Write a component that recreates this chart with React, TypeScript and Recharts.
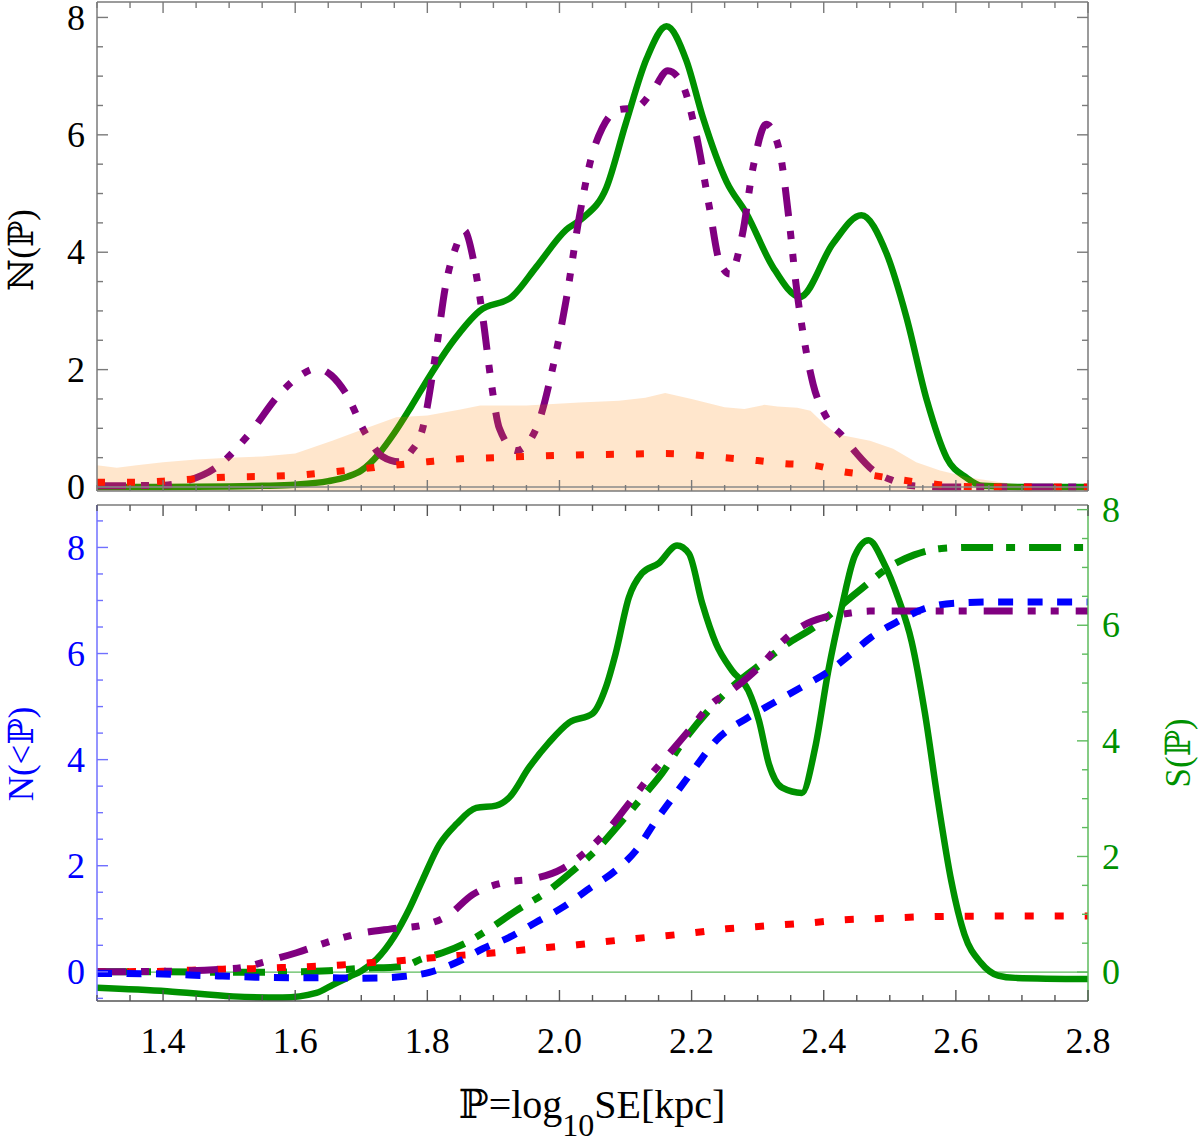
import React from 'react';
import { ComposedChart, Line, Area, XAxis, YAxis, ReferenceLine } from 'recharts';

// ---------- axis ticks ----------
const xTicks = [1.3, 1.35, 1.4, 1.45, 1.5, 1.55, 1.6, 1.65, 1.7, 1.75, 1.8, 1.85, 1.9, 1.95, 2.0, 2.05, 2.1, 2.15, 2.2, 2.25, 2.3, 2.35, 2.4, 2.45, 2.5, 2.55, 2.6, 2.65, 2.7, 2.75, 2.8];
const xMajor = [1.4, 1.6, 1.8, 2.0, 2.2, 2.4, 2.6, 2.8];
const topYTicks = [0, 0.5, 1, 1.5, 2, 2.5, 3, 3.5, 4, 4.5, 5, 5.5, 6, 6.5, 7, 7.5, 8];
const botLeftTicks = [-0.5, 0, 0.5, 1, 1.5, 2, 2.5, 3, 3.5, 4, 4.5, 5, 5.5, 6, 6.5, 7, 7.5, 8, 8.5];
const botRightTicks = [0, 0.5, 1, 1.5, 2, 2.5, 3, 3.5, 4, 4.5, 5, 5.5, 6, 6.5, 7, 7.5, 8];
const yMajor = [0, 2, 4, 6, 8];

const X_DOMAIN = [1.3, 2.8];
const TOP_DOMAIN = [-0.068, 8.263];
const BOT_LEFT_DOMAIN = [-0.55, 8.8];
const BOT_RIGHT_DOMAIN = [-0.5, 8.08];

// ---------- top panel: N(P) ----------
const topGreenX = [1.3, 1.4, 1.5, 1.55, 1.6, 1.65, 1.68, 1.7, 1.727, 1.75, 1.775, 1.803, 1.84, 1.879, 1.929, 1.965, 2.01, 2.035, 2.071, 2.1, 2.132, 2.162, 2.192, 2.217, 2.253, 2.283, 2.323, 2.364, 2.414, 2.457, 2.495, 2.525, 2.556, 2.586, 2.616, 2.64, 2.7, 2.8];
const topGreenY = [0, 0, 0.01, 0.02, 0.04, 0.1, 0.18, 0.28, 0.57, 0.92, 1.36, 1.88, 2.5, 3.0, 3.25, 3.75, 4.38, 4.58, 5.1, 6.18, 7.3, 7.85, 7.27, 6.3, 5.2, 4.66, 3.75, 3.24, 4.15, 4.63, 3.98, 2.9, 1.48, 0.5, 0.16, 0.02, 0, 0];

const topPurpleX = [1.3, 1.4, 1.435, 1.48, 1.53, 1.576, 1.605, 1.633, 1.655, 1.677, 1.707, 1.732, 1.757, 1.775, 1.793, 1.813, 1.828, 1.843, 1.856, 1.871, 1.884, 1.897, 1.909, 1.935, 1.965, 1.99, 2.01, 2.03, 2.048, 2.065, 2.09, 2.116, 2.141, 2.164, 2.186, 2.207, 2.227, 2.242, 2.258, 2.277, 2.293, 2.313, 2.333, 2.348, 2.358, 2.369, 2.384, 2.404, 2.43, 2.45, 2.475, 2.505, 2.535, 2.6, 2.8];
const topPurpleY = [0.02, 0.03, 0.1, 0.33, 0.9, 1.58, 1.88, 2.02, 1.9, 1.59, 0.9, 0.52, 0.43, 0.6, 1.0, 2.3, 3.45, 4.08, 4.37, 3.8, 2.89, 1.76, 1.0, 0.62, 1.0, 2.04, 3.18, 4.6, 5.6, 6.12, 6.43, 6.46, 6.75, 7.09, 6.86, 6.0, 4.76, 3.85, 3.63, 4.31, 5.44, 6.18, 5.73, 4.5, 3.46, 2.6, 1.75, 1.19, 0.85, 0.57, 0.28, 0.11, 0.02, 0, 0];

const topRedX = [1.3, 1.35, 1.4, 1.45, 1.5, 1.55, 1.6, 1.65, 1.7, 1.75, 1.8, 1.85, 1.9, 2.0, 2.1, 2.16, 2.25, 2.3, 2.34, 2.384, 2.43, 2.473, 2.518, 2.56, 2.606, 2.65, 2.8];
const topRedY = [0.08, 0.08, 0.1, 0.14, 0.17, 0.18, 0.2, 0.25, 0.31, 0.37, 0.43, 0.48, 0.5, 0.54, 0.56, 0.57, 0.5, 0.45, 0.4, 0.37, 0.26, 0.2, 0.12, 0.06, 0.01, 0, 0];

const topBandX = [1.3, 1.33, 1.36, 1.4, 1.45, 1.5, 1.55, 1.6, 1.656, 1.707, 1.753, 1.8, 1.85, 1.88, 1.95, 2.03, 2.09, 2.13, 2.16, 2.2, 2.25, 2.28, 2.31, 2.33, 2.36, 2.38, 2.4, 2.42, 2.47, 2.505, 2.54, 2.576, 2.62, 2.667, 2.71, 2.75, 2.8];
const topBandY = [0.37, 0.33, 0.37, 0.42, 0.47, 0.5, 0.52, 0.57, 0.79, 1.0, 1.19, 1.22, 1.32, 1.39, 1.39, 1.44, 1.47, 1.52, 1.6, 1.5, 1.36, 1.33, 1.4, 1.37, 1.35, 1.3, 1.08, 0.9, 0.79, 0.65, 0.42, 0.28, 0.16, 0.08, 0.02, 0, 0];

// ---------- bottom panel: N(<P) (left axis) ----------
const botBlueX = [1.3, 1.4, 1.44, 1.49, 1.54, 1.6, 1.64, 1.693, 1.74, 1.762, 1.803, 1.848, 1.883, 1.924, 1.964, 2.004, 2.045, 2.085, 2.116, 2.146, 2.176, 2.206, 2.237, 2.286, 2.327, 2.367, 2.407, 2.437, 2.472, 2.513, 2.553, 2.598, 2.65, 2.8];
const botBlueY = [-0.03, -0.04, -0.06, -0.08, -0.1, -0.11, -0.11, -0.12, -0.11, -0.09, -0.01, 0.2, 0.43, 0.65, 0.93, 1.21, 1.57, 1.91, 2.29, 2.85, 3.36, 3.86, 4.36, 4.8, 5.09, 5.37, 5.66, 5.95, 6.31, 6.61, 6.85, 6.95, 6.97, 6.97];

const botPurpleX = [1.3, 1.4, 1.44, 1.49, 1.52, 1.551, 1.602, 1.657, 1.693, 1.745, 1.793, 1.831, 1.868, 1.919, 1.959, 2.004, 2.045, 2.075, 2.105, 2.14, 2.166, 2.196, 2.231, 2.261, 2.286, 2.312, 2.337, 2.365, 2.403, 2.433, 2.47, 2.8];
const botPurpleY = [0, 0.01, 0.02, 0.05, 0.08, 0.18, 0.36, 0.59, 0.71, 0.81, 0.88, 1.06, 1.45, 1.69, 1.75, 1.94, 2.32, 2.7, 3.17, 3.74, 4.11, 4.55, 5.06, 5.31, 5.56, 5.87, 6.22, 6.5, 6.69, 6.75, 6.8, 6.8];

const botGreenCumX = [1.3, 1.4, 1.5, 1.6, 1.65, 1.693, 1.762, 1.793, 1.823, 1.859, 1.894, 1.934, 1.98, 2.015, 2.055, 2.095, 2.125, 2.155, 2.185, 2.226, 2.261, 2.312, 2.342, 2.388, 2.412, 2.453, 2.503, 2.537, 2.578, 2.62, 2.8];
const botGreenCumY = [0, 0, -0.01, 0, 0.02, 0.06, 0.1, 0.25, 0.36, 0.55, 0.81, 1.15, 1.5, 1.85, 2.29, 2.85, 3.29, 3.74, 4.3, 4.93, 5.37, 5.87, 6.16, 6.52, 6.76, 7.18, 7.66, 7.86, 7.98, 8.0, 8.0];

const botRedX = [1.3, 1.4, 1.44, 1.49, 1.536, 1.579, 1.625, 1.67, 1.712, 1.758, 1.803, 1.848, 1.894, 1.936, 1.981, 2.027, 2.07, 2.116, 2.161, 2.206, 2.252, 2.297, 2.339, 2.385, 2.43, 2.472, 2.563, 2.65, 2.8];
const botRedY = [0, 0.01, 0.03, 0.05, 0.06, 0.08, 0.1, 0.13, 0.17, 0.21, 0.26, 0.31, 0.35, 0.4, 0.46, 0.51, 0.57, 0.63, 0.68, 0.74, 0.81, 0.85, 0.89, 0.93, 0.98, 1.0, 1.04, 1.05, 1.05];

// ---------- bottom panel: S(P) (right axis) ----------
const botSX = [1.3, 1.406, 1.506, 1.581, 1.632, 1.657, 1.682, 1.7, 1.723, 1.75, 1.773, 1.793, 1.818, 1.844, 1.874, 1.904, 1.924, 1.954, 1.984, 2.015, 2.05, 2.07, 2.085, 2.105, 2.125, 2.15, 2.178, 2.196, 2.216, 2.237, 2.261, 2.286, 2.302, 2.317, 2.337, 2.367, 2.387, 2.407, 2.427, 2.447, 2.468, 2.49, 2.513, 2.533, 2.553, 2.573, 2.593, 2.613, 2.638, 2.664, 2.69, 2.8];
const botSY = [-0.27, -0.33, -0.42, -0.44, -0.36, -0.22, -0.08, 0.02, 0.22, 0.62, 1.1, 1.6, 2.2, 2.56, 2.84, 2.88, 3.02, 3.54, 3.97, 4.32, 4.47, 4.92, 5.51, 6.48, 6.9, 7.07, 7.38, 7.24, 6.38, 5.68, 5.22, 4.87, 4.35, 3.6, 3.19, 3.1, 3.88, 5.22, 6.3, 7.2, 7.47, 7.1, 6.46, 5.72, 4.49, 2.95, 1.58, 0.65, 0.16, -0.06, -0.1, -0.12];

const zip = (xs: number[], ys: number[]) => xs.map((x, i) => ({ x, y: ys[i] }));

const topGreen = zip(topGreenX, topGreenY);
const topPurple = zip(topPurpleX, topPurpleY);
const topRed = zip(topRedX, topRedY);
const topBand = zip(topBandX, topBandY);
const botBlue = zip(botBlueX, botBlueY);
const botPurple = zip(botPurpleX, botPurpleY);
const botGreenCum = zip(botGreenCumX, botGreenCumY);
const botRed = zip(botRedX, botRedY);
const botS = zip(botSX, botSY);

// ---------- styles ----------
const FONT = "'Liberation Serif', 'DejaVu Serif', 'DejaVu Sans', serif";
const GREEN = '#009100';
const PURPLE = '#800080';
const RED = '#FF0000';
const BLUE = '#0000FF';
const FRAME = '#7a7a7a';
const BLUE_AXIS = '#7070FF';
const GREEN_AXIS = '#5DBB5D';
const LW = 6.5;

const isMajor = (v: number, list: number[]) => list.some((m) => Math.abs(m - v) < 1e-6);

const xTick = (orient: 'top' | 'bottom', showLabel: boolean, color: string) => (p: any) => {
  const v = p.payload.value;
  const major = isMajor(v, xMajor);
  const len = major ? 11 : 6;
  const dir = orient === 'bottom' ? -1 : 1;
  return (
    <g>
      <line x1={p.x} y1={p.y} x2={p.x} y2={p.y + dir * len} stroke={color} strokeWidth={1.4} />
      {showLabel && major ? (
        <text x={p.x} y={p.y + 52} textAnchor="middle" fontFamily={FONT} fontSize={36} fill="#000">
          {v.toFixed(1)}
        </text>
      ) : null}
    </g>
  );
};

const yTick = (side: 'left' | 'right', showLabel: boolean, color: string, labelColor: string) => (p: any) => {
  const v = p.payload.value;
  const major = isMajor(v, yMajor);
  const len = major ? 11 : 6;
  const dir = side === 'left' ? 1 : -1;
  return (
    <g>
      <line x1={p.x} y1={p.y} x2={p.x + dir * len} y2={p.y} stroke={color} strokeWidth={1.4} />
      {showLabel && major ? (
        <text
          x={side === 'left' ? p.x - 12 : p.x + 14}
          y={p.y}
          dy="0.34em"
          textAnchor={side === 'left' ? 'end' : 'start'}
          fontFamily={FONT}
          fontSize={36}
          fill={labelColor}
        >
          {String(v)}
        </text>
      ) : null}
    </g>
  );
};

const axisCommon = {
  tickSize: 0,
  tickMargin: 0,
  tickLine: false,
  interval: 0 as const,
  allowDataOverflow: true,
};

function TopChart() {
  return (
    <ComposedChart width={1200} height={540} margin={{ top: 21, right: 111, bottom: 28, left: 96 }}>
      <XAxis
        xAxisId="b"
        type="number"
        dataKey="x"
        orientation="bottom"
        domain={X_DOMAIN}
        ticks={xTicks}
        height={1}
        axisLine={{ stroke: FRAME, strokeWidth: 1.5 }}
        tick={xTick('bottom', false, FRAME)}
        {...axisCommon}
      />
      <XAxis
        xAxisId="t"
        type="number"
        dataKey="x"
        orientation="top"
        domain={X_DOMAIN}
        ticks={xTicks}
        height={1}
        axisLine={{ stroke: FRAME, strokeWidth: 1.5 }}
        tick={xTick('top', false, FRAME)}
        {...axisCommon}
      />
      <YAxis
        yAxisId="l"
        type="number"
        orientation="left"
        domain={TOP_DOMAIN}
        ticks={topYTicks}
        width={1}
        axisLine={{ stroke: FRAME, strokeWidth: 1.5 }}
        tick={yTick('left', true, FRAME, '#000')}
        {...axisCommon}
      />
      <YAxis
        yAxisId="r"
        type="number"
        orientation="right"
        domain={TOP_DOMAIN}
        ticks={topYTicks}
        width={1}
        axisLine={{ stroke: FRAME, strokeWidth: 1.5 }}
        tick={yTick('right', false, FRAME, '#000')}
        {...axisCommon}
      />
      <Line data={topGreen} dataKey="y" xAxisId="b" yAxisId="l" type="monotone" stroke={GREEN} strokeWidth={LW} dot={false} activeDot={false} isAnimationActive={false} />
      <Line data={topPurple} dataKey="y" xAxisId="b" yAxisId="l" type="monotone" stroke={PURPLE} strokeWidth={7} strokeDasharray="29 15 8 15 8 17" dot={false} activeDot={false} isAnimationActive={false} />
      <Line data={topRed} dataKey="y" xAxisId="b" yAxisId="l" type="monotone" stroke={RED} strokeWidth={7} strokeDasharray="8 22" dot={false} activeDot={false} isAnimationActive={false} />
      <Area data={topBand} dataKey="y" xAxisId="b" yAxisId="l" type="linear" baseValue={TOP_DOMAIN[0]} stroke="none" fill="#FF8000" fillOpacity={0.2} isAnimationActive={false} zIndex={450} />
      <ReferenceLine y={0} xAxisId="b" yAxisId="l" stroke="#8a8a8a" strokeWidth={1.5} zIndex={460} />
    </ComposedChart>
  );
}

function BottomChart() {
  return (
    <ComposedChart width={1200} height={666} margin={{ top: 24, right: 111, bottom: 144, left: 96 }}>
      <XAxis
        xAxisId="b"
        type="number"
        dataKey="x"
        orientation="bottom"
        domain={X_DOMAIN}
        ticks={xTicks}
        height={1}
        axisLine={{ stroke: '#555', strokeWidth: 1.5 }}
        tick={xTick('bottom', true, '#555')}
        {...axisCommon}
      />
      <XAxis
        xAxisId="t"
        type="number"
        dataKey="x"
        orientation="top"
        domain={X_DOMAIN}
        ticks={xTicks}
        height={1}
        axisLine={{ stroke: FRAME, strokeWidth: 1.5 }}
        tick={xTick('top', false, '#555')}
        {...axisCommon}
      />
      <YAxis
        yAxisId="l"
        type="number"
        orientation="left"
        domain={BOT_LEFT_DOMAIN}
        ticks={botLeftTicks}
        width={1}
        axisLine={{ stroke: BLUE_AXIS, strokeWidth: 1.5 }}
        tick={yTick('left', true, BLUE_AXIS, BLUE)}
        {...axisCommon}
      />
      <YAxis
        yAxisId="r"
        type="number"
        orientation="right"
        domain={BOT_RIGHT_DOMAIN}
        ticks={botRightTicks}
        width={1}
        axisLine={{ stroke: GREEN_AXIS, strokeWidth: 1.5 }}
        tick={yTick('right', true, GREEN_AXIS, GREEN)}
        {...axisCommon}
      />
      <ReferenceLine y={0} xAxisId="b" yAxisId="r" stroke={GREEN_AXIS} strokeWidth={1.2} />
      <Line data={botS} dataKey="y" xAxisId="b" yAxisId="r" type="monotone" stroke={GREEN} strokeWidth={LW} dot={false} activeDot={false} isAnimationActive={false} />
      <Line data={botGreenCum} dataKey="y" xAxisId="b" yAxisId="l" type="monotone" stroke={GREEN} strokeWidth={7} strokeDasharray="32 13 9 14" dot={false} activeDot={false} isAnimationActive={false} />
      <Line data={botRed} dataKey="y" xAxisId="b" yAxisId="l" type="monotone" stroke={RED} strokeWidth={7} strokeDasharray="9 21" dot={false} activeDot={false} isAnimationActive={false} />
      <Line data={botPurple} dataKey="y" xAxisId="b" yAxisId="l" type="monotone" stroke={PURPLE} strokeWidth={7} strokeDasharray="29 15 8 15 8 17" dot={false} activeDot={false} isAnimationActive={false} />
      <Line data={botBlue} dataKey="y" xAxisId="b" yAxisId="l" type="monotone" stroke={BLUE} strokeWidth={7} strokeDasharray="15 14.5" dot={false} activeDot={false} isAnimationActive={false} />
    </ComposedChart>
  );
}

export default function App() {
  return (
    <div style={{ position: 'absolute', left: 0, top: 0, width: 1200, height: 1146, background: '#fff', overflow: 'hidden' }}>
      <div style={{ position: 'absolute', left: 0, top: -20 }}>
        <TopChart />
      </div>
      <div style={{ position: 'absolute', left: 0, top: 480 }}>
        <BottomChart />
      </div>
      <svg width={1200} height={1146} style={{ position: 'absolute', left: 0, top: 0, pointerEvents: 'none' }}>
        <text x={33} y={250} transform="rotate(-90 33 250)" textAnchor="middle" fontFamily={FONT} fontSize={35} fill="#000">
          ℕ(ℙ)
        </text>
        <text x={33} y={754} transform="rotate(-90 33 754)" textAnchor="middle" fontFamily={FONT} fontSize={35} fill={BLUE}>
          N(&lt;ℙ)
        </text>
        <text x={1190} y={753} transform="rotate(-90 1190 753)" textAnchor="middle" fontFamily={FONT} fontSize={35} fill={GREEN}>
          S(ℙ)
        </text>
        <text x={592} y={1118} textAnchor="middle" fontFamily={FONT} fontSize={40} fill="#000">
          <tspan>ℙ=log</tspan>
          <tspan dy={18} fontSize={32}>10</tspan>
          <tspan dy={-18}>SE[kpc]</tspan>
        </text>
      </svg>
    </div>
  );
}
